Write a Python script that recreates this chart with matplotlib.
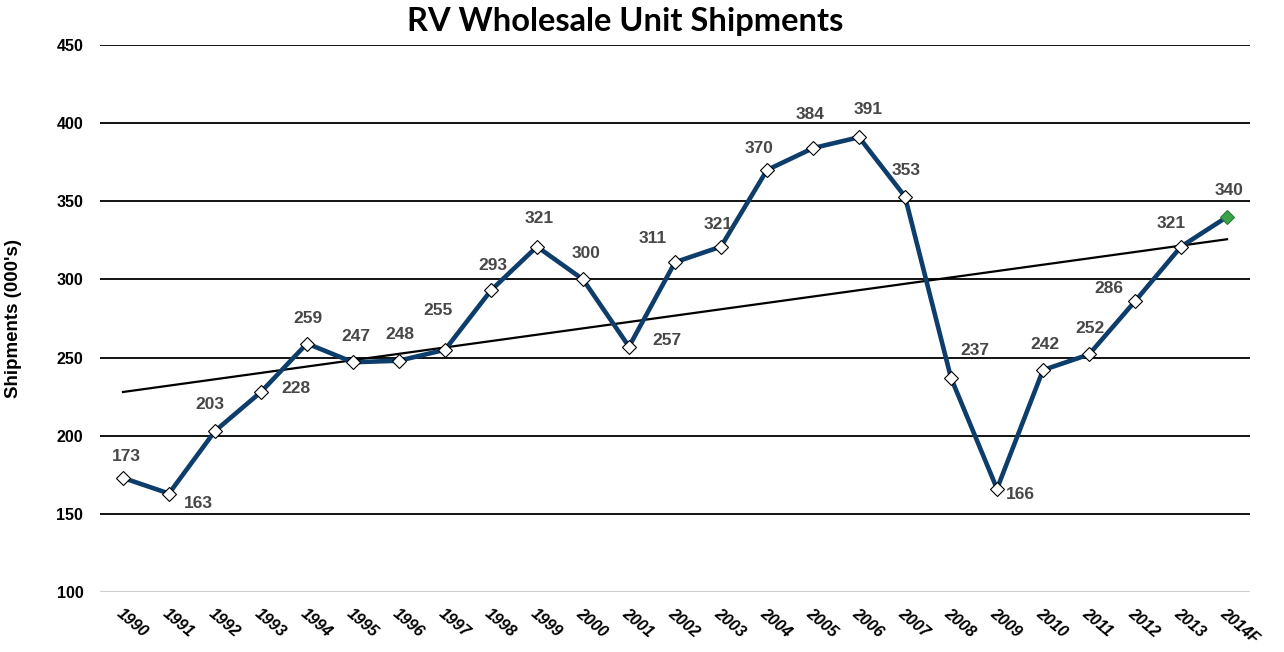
import numpy as np
import matplotlib
matplotlib.use("Agg")
import matplotlib.pyplot as plt

years = ["1990", "1991", "1992", "1993", "1994", "1995", "1996", "1997", "1998", "1999",
         "2000", "2001", "2002", "2003", "2004", "2005", "2006", "2007", "2008", "2009",
         "2010", "2011", "2012", "2013", "2014F"]
shipments = [173, 163, 203, 228, 259, 247, 248, 255, 293, 321,
             300, 257, 311, 321, 370, 384, 391, 353, 237, 166,
             242, 252, 286, 321, 340]
yticks = [100, 150, 200, 250, 300, 350, 400, 450]

# label offsets in pixels (dx right, dy up)
offsets = [(3, 21), (29, -10), (-5, 27), (35, 3), (1, 25), (3, 26), (1, 26), (-7, 39),
           (2, 25), (2, 28), (3, 26), (38, 6), (-22, 24), (-3, 22), (-8, 22), (-3, 34),
           (9, 28), (1, 26), (24, 27), (23, -6), (2, 26), (1, 26), (-26, 13), (-10, 23),
           (2, 26)]

W, H = 1284, 652
fig = plt.figure(figsize=(W / 100, H / 100), dpi=100)
ax = fig.add_axes([100 / W, 1 - 592 / H, 1150 / W, 547 / H])

x = np.arange(len(years))
ax.set_xlim(-0.5, len(years) - 0.5)
ax.set_ylim(100, 450)

for t in yticks[1:]:
    ax.axhline(t, color="black", lw=1.3, zorder=1)
ax.axhline(100, color="#d0d0d0", lw=1.5, zorder=1)

# trend line
coef = np.polyfit(x, shipments, 1)
ax.plot(x, np.polyval(coef, x), color="black", lw=1.6, zorder=2)

ax.plot(x, shipments, color="#0d3d6b", lw=3.3, zorder=3)
ax.plot(x[:-1], shipments[:-1], ls="none", marker="D", ms=7, mfc="white",
        mec="black", mew=0.8, zorder=4)
ax.plot(x[-1:], shipments[-1:], ls="none", marker="D", ms=7, mfc="#3aa34a",
        mec="#2a7a36", mew=0.8, zorder=4)

for xi, v, (dx, dy) in zip(x, shipments, offsets):
    ax.annotate(str(v), (xi, v), xytext=(dx * 0.72, dy * 0.72), textcoords="offset points",
                ha="center", va="center", fontsize=12.5, fontweight="bold",
                color="#474747", family="Liberation Sans", zorder=5)

for s in ax.spines.values():
    s.set_visible(False)
ax.tick_params(length=0)
ax.set_yticks(yticks)
ax.set_yticklabels([str(t) for t in yticks], fontsize=11.5, fontweight="bold",
                   family="Liberation Sans")
ax.tick_params(axis="y", pad=12)
ax.set_xticks(x)
ax.set_xticklabels(years, rotation=-40, ha="left", va="top", rotation_mode="anchor",
                   fontsize=11.5, fontweight="bold", style="italic", family="Liberation Sans")
ax.tick_params(axis="x", pad=10)

ax.set_ylabel("Shipments (000's)", fontsize=13.5, fontweight="bold",
              family="Liberation Sans")
ax.yaxis.set_label_coords(-78 / 1150, 0.5)
fig.text(625 / W, 1 - 22 / H, "RV Wholesale Unit Shipments", ha="center", va="center",
         fontsize=23.5, fontweight="bold", family="Lato")

fig.savefig("out.png", dpi=100, facecolor="white")
